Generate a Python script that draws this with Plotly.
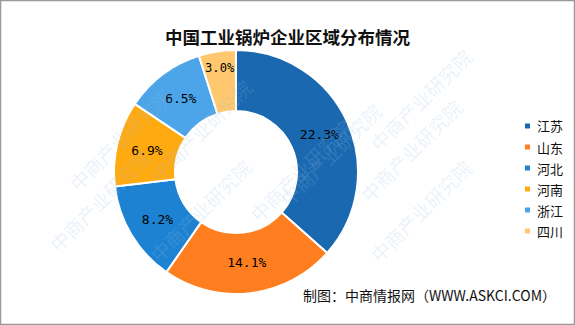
import plotly.graph_objects as go

regions = ["江苏", "山东", "河北", "河南", "浙江", "四川"]
shares = [22.3, 14.1, 8.2, 6.9, 6.5, 3.0]
colors = ["#1a69b0", "#ff7f20", "#1e82d2", "#ffaa10", "#4ba5e8", "#ffc86e"]

W, H = 575, 325
def px(x): return x / W
def py(y): return 1 - y / H

fig = go.Figure()
fig.add_trace(go.Pie(
    labels=regions, values=shares, sort=False, direction="clockwise", rotation=0,
    hole=0.5,
    marker=dict(colors=colors, line=dict(color="white", width=2)),
    texttemplate="%{value:.1f}%", textposition="inside", insidetextorientation="horizontal",
    textfont=dict(family="DejaVu Sans Mono", size=13, color="black"),
    domain=dict(x=[px(114), px(358)], y=[py(294), py(50)]),
    hoverinfo="label+value", showlegend=False,
))

# watermarks
wm = [(60, 80), (200, 130), (330, 95), (480, 40), (40, 200), (200, 270), (470, 150), (480, 270), (300, 230)]
for (x, y) in wm:
    fig.add_annotation(x=px(x), y=py(y), xref="paper", yref="paper", text="中商产业研究院",
                       showarrow=False, textangle=-45,
                       font=dict(family="Noto Sans CJK SC", size=19, color="rgba(150,190,225,0.2)"))

# legend drawn from the data lists
for i, (name, col) in enumerate(zip(regions, colors)):
    yc = 126 + 21 * i
    fig.add_shape(type="rect", xref="paper", yref="paper",
                  x0=px(525), x1=px(530), y0=py(yc + 2.5), y1=py(yc - 2.5),
                  fillcolor=col, line=dict(width=0))
    fig.add_annotation(x=px(535), y=py(yc), xref="paper", yref="paper", xanchor="left",
                       yanchor="middle", text=name, showarrow=False,
                       font=dict(family="Noto Sans CJK SC", size=13, color="#111"))

fig.add_annotation(x=0.5, y=py(22), xref="paper", yref="paper",
                   text="<b>中国工业锅炉企业区域分布情况</b>", showarrow=False,
                   font=dict(family="Noto Sans CJK SC", size=17.5, color="#111"))
fig.add_annotation(x=px(558), y=py(307), xref="paper", yref="paper", xanchor="right",
                   text="制图：中商情报网（WWW.ASKCI.COM）", showarrow=False,
                   font=dict(family="Noto Sans CJK SC", size=14, color="#111"))
fig.add_shape(type="rect", xref="paper", yref="paper", x0=px(0.5), y0=py(324.5), x1=px(574.5), y1=py(0.5),
              line=dict(color="#999", width=1.5))

fig.update_layout(
    width=W, height=H, margin=dict(l=0, r=0, t=0, b=0),
    paper_bgcolor="white", plot_bgcolor="white",
    showlegend=False,
)
fig.write_html("out.html")
